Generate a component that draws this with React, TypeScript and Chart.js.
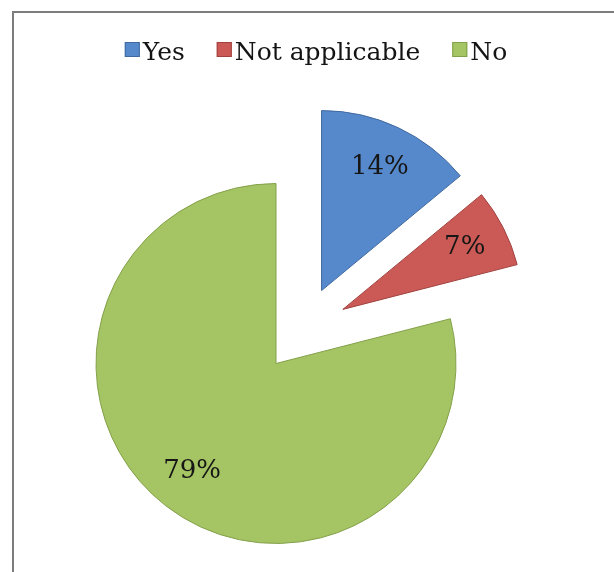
import React, { useEffect, useRef } from 'react';
import { Chart, registerables } from 'chart.js';

Chart.register(...registerables);

// ---- data ----
const CATEGORIES = ['Yes', 'Not applicable', 'No'];
const VALUES = [14, 7, 79];
const PERCENT_LABELS = VALUES.map((v) => `${v}%`);

// ---- styles ----
const COLORS = ['#5689CB', '#CB5A56', '#A5C464'];
const BORDERS = ['#41699F', '#A0423F', '#83A04A'];
// slice explosion (distance in px, direction in degrees clockwise from 12 o'clock)
const EXPLODE = [
  { distance: 86, angleDeg: 32 },
  { distance: 86, angleDeg: 51 },
  { distance: 0, angleDeg: 0 },
];
const FONT = '"DejaVu Serif", "Liberation Serif", serif';
const LEGEND_CENTER_X = 316;

const explodePlugin = {
  id: 'explodeSlices',
  afterDatasetUpdate(chart: any, args: any) {
    const meta = args.meta || chart.getDatasetMeta(args.index);
    meta.data.forEach((el: any, i: number) => {
      const e = EXPLODE[i];
      if (!e || !e.distance) return;
      const a = (e.angleDeg * Math.PI) / 180;
      el.x += Math.sin(a) * e.distance;
      el.y -= Math.cos(a) * e.distance;
    });
  },
};

const sliceLabelPlugin = {
  id: 'sliceLabels',
  afterDatasetsDraw(chart: any) {
    const ctx = chart.ctx;
    const meta = chart.getDatasetMeta(0);
    ctx.save();
    ctx.font = `26px ${FONT}`;
    ctx.fillStyle = '#161616';
    ctx.textAlign = 'center';
    ctx.textBaseline = 'middle';
    meta.data.forEach((arc: any, i: number) => {
      const { x, y, startAngle, endAngle, outerRadius } = arc;
      const mid = (startAngle + endAngle) / 2;
      const r = outerRadius * 0.76;
      ctx.fillText(PERCENT_LABELS[i], x + Math.cos(mid) * r, y + Math.sin(mid) * r);
    });
    ctx.restore();
  },
};

const legendPlugin = {
  id: 'customLegend',
  afterDraw(chart: any) {
    const ctx = chart.ctx;
    const labels: string[] = chart.data.labels;
    const ds = chart.data.datasets[0];
    ctx.save();
    ctx.font = `25px ${FONT}`;
    const box = 15;
    const gapText = 3;
    const gapItem = 32;
    const widths = labels.map((l) => box + gapText + ctx.measureText(l).width);
    const total = widths.reduce((a, b) => a + b, 0) + gapItem * (labels.length - 1);
    let x = LEGEND_CENTER_X - total / 2;
    labels.forEach((l, i) => {
      ctx.fillStyle = ds.backgroundColor[i];
      ctx.fillRect(x, 42, box, box);
      ctx.strokeStyle = ds.borderColor[i];
      ctx.lineWidth = 1;
      ctx.strokeRect(x + 0.5, 42.5, box - 1, box - 1);
      ctx.fillStyle = '#141414';
      ctx.textAlign = 'left';
      ctx.textBaseline = 'alphabetic';
      ctx.fillText(l, x + box + gapText, 60);
      x += widths[i] + gapItem;
    });
    ctx.restore();
  },
};

export default function App() {
  const ref = useRef<HTMLCanvasElement>(null);

  useEffect(() => {
    if (!ref.current) return;
    const chart = new Chart(ref.current, {
      type: 'pie',
      data: {
        labels: CATEGORIES,
        datasets: [
          {
            data: VALUES,
            backgroundColor: COLORS,
            borderColor: BORDERS,
            borderWidth: 1,
            radius: 180,
          } as any,
        ],
      },
      options: {
        responsive: false,
        animation: false,
        layout: { padding: { left: 0, right: 62, top: 155, bottom: 0 } },
        plugins: {
          legend: { display: false },
          tooltip: { enabled: false },
          title: { display: false },
        },
      },
      plugins: [explodePlugin, sliceLabelPlugin, legendPlugin],
    });
    return () => chart.destroy();
  }, []);

  return (
    <div style={{ position: 'fixed', left: 0, top: 0, width: 614, height: 572, background: '#fff', overflow: 'hidden' }}>
      <div
        style={{
          position: 'absolute',
          left: 12,
          top: 11,
          right: 0,
          bottom: 0,
          borderTop: '2px solid #7d7d7d',
          borderLeft: '2px solid #7d7d7d',
        }}
      />
      <canvas ref={ref} width={614} height={572} style={{ position: 'absolute', left: 0, top: 0, display: 'block' }} />
    </div>
  );
}
